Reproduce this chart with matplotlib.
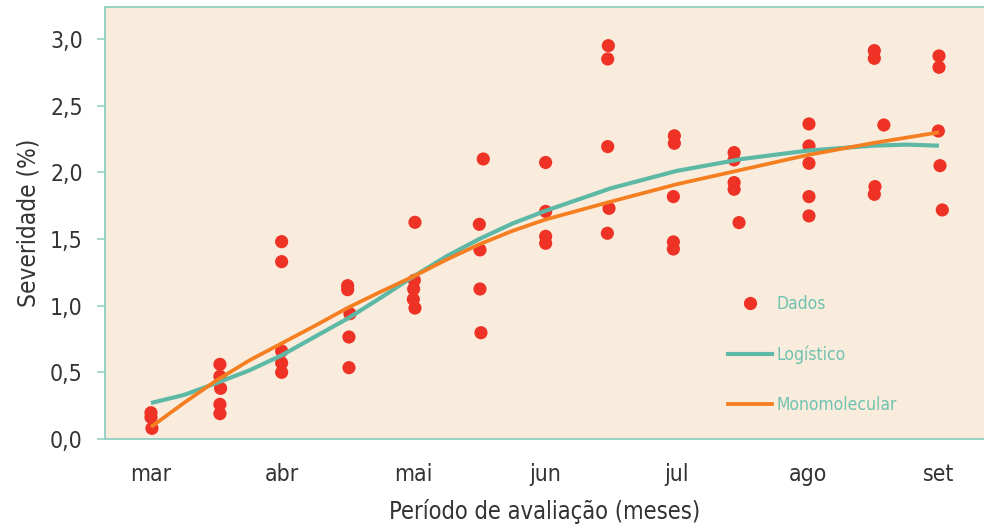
import numpy as np
import matplotlib
matplotlib.use("Agg")
import matplotlib.pyplot as plt
from matplotlib.lines import Line2D

plt.rcParams["font.family"] = ["DejaVu Sans"]
plt.rcParams["font.stretch"] = "condensed"

# =========================
# Data (x = evaluation number, roughly every half month from early March)
# =========================

month_labels = ["mar", "abr", "mai", "jun", "jul", "ago", "set"]
month_pos = [0, 2, 4, 6, 8, 10, 12]

y_ticks = [0.0, 0.5, 1.0, 1.5, 2.0, 2.5, 3.0]
y_tick_labels = ["0,0", "0,5", "1,0", "1,5", "2,0", "2,5", "3,0"]

# observed severity, one entry per plant sample
obs_x = [
    0.0, 0.0, 0.015,
    1.05, 1.05, 1.06, 1.05, 1.05,
    1.99, 1.99, 1.99, 1.99, 1.99,
    2.995, 2.995, 3.03, 3.015, 3.015,
    4.02, 4.01, 4.0, 3.995, 4.02,
    5.06, 5.0, 5.01, 5.01, 5.025,
    6.01, 6.01, 6.01, 6.01,
    6.965, 6.955, 6.955, 6.975, 6.95,
    7.97, 7.97, 7.955, 7.955, 7.955,
    8.88, 8.88, 8.88, 8.88, 8.955,
    10.02, 10.02, 10.02, 10.02, 10.02,
    11.015, 11.015, 11.16, 11.025, 11.015,
    12.0, 12.0, 11.99, 12.015, 12.05,
]
obs_y = [
    0.197, 0.163, 0.08,
    0.56, 0.47, 0.38, 0.26, 0.19,
    1.48, 1.33, 0.66, 0.57, 0.50,
    1.15, 1.12, 0.94, 0.765, 0.535,
    1.625, 1.19, 1.125, 1.048, 0.982,
    2.10, 1.61, 1.418, 1.125, 0.797,
    2.074, 1.707, 1.52, 1.468,
    2.95, 2.85, 2.193, 1.73, 1.543,
    2.274, 2.218, 1.818, 1.478, 1.425,
    2.148, 2.093, 1.923, 1.873, 1.623,
    2.363, 2.198, 2.068, 1.818, 1.673,
    2.913, 2.855, 2.355, 1.893, 1.835,
    2.873, 2.788, 2.31, 2.05, 1.718,
]

# fitted model curves
fit_x = [0, 0.5, 1, 1.5, 2, 2.5, 3, 3.5, 4, 4.5, 5, 5.5, 6, 7, 8, 9, 10, 11, 11.5, 12]
logistic_y = [0.27, 0.33, 0.42, 0.515, 0.63, 0.768, 0.905, 1.06, 1.22, 1.37,
              1.50, 1.615, 1.71, 1.88, 2.01, 2.10, 2.163, 2.20, 2.208, 2.20]
monomolecular_y = [0.09, 0.27, 0.44, 0.59, 0.72, 0.85, 0.985, 1.105, 1.22, 1.345,
                   1.46, 1.56, 1.645, 1.78, 1.91, 2.02, 2.13, 2.22, 2.26, 2.30]

RED = "#ee3326"
TEAL = "#5db8a6"
ORANGE = "#f47e20"
SPINE = "#8fd0c1"
BG = "#faecdd"
TEXT = "#333333"

# =========================
# Plot
# =========================

fig = plt.figure(figsize=(9.84, 5.28), dpi=100)
ax = fig.add_axes([105 / 984, 89 / 528, 879 / 984, 432 / 528])
ax.set_facecolor(BG)

ax.scatter(obs_x, obs_y, s=90, color=RED, edgecolors="none", zorder=2)
ax.plot(fit_x, logistic_y, color=TEAL, lw=3.0, solid_capstyle="butt", zorder=3)
ax.plot(fit_x, monomolecular_y, color=ORANGE, lw=2.7, solid_capstyle="butt", zorder=4)

ax.set_xlim(-0.70, 12.685)
ax.set_ylim(0, 3.24)

ax.set_xticks(month_pos)
ax.set_xticklabels(month_labels)
ax.set_yticks(y_ticks)
ax.set_yticklabels(y_tick_labels)

ax.tick_params(axis="x", length=0, pad=17, labelsize=16.5, labelcolor=TEXT)
ax.tick_params(axis="y", length=6, width=1.1, color=SPINE, pad=10, labelsize=16.5, labelcolor=TEXT)

for side in ["left", "top", "bottom"]:
    ax.spines[side].set_color(SPINE)
    ax.spines[side].set_linewidth(1.3)
ax.spines["right"].set_visible(False)

ax.set_xlabel("Período de avaliação (meses)", fontsize=17, color=TEXT, labelpad=10)
ax.set_ylabel("Severidade (%)", fontsize=17.5, color=TEXT, labelpad=7)

handles = [
    Line2D([], [], ls="none", marker="o", markersize=9.5, color=RED, markeredgewidth=0),
    Line2D([], [], color=TEAL, lw=3.0),
    Line2D([], [], color=ORANGE, lw=2.7),
]
ax.legend(handles, ["Dados", "Logístico", "Monomolecular"],
          loc="upper left", bbox_to_anchor=(0.709, 0.3326), frameon=False,
          borderpad=0, borderaxespad=0, fontsize=12.5, labelcolor="#6fc2ae",
          handlelength=2.5, handletextpad=0.3, labelspacing=1.85)

fig.savefig("out.png", dpi=100)
